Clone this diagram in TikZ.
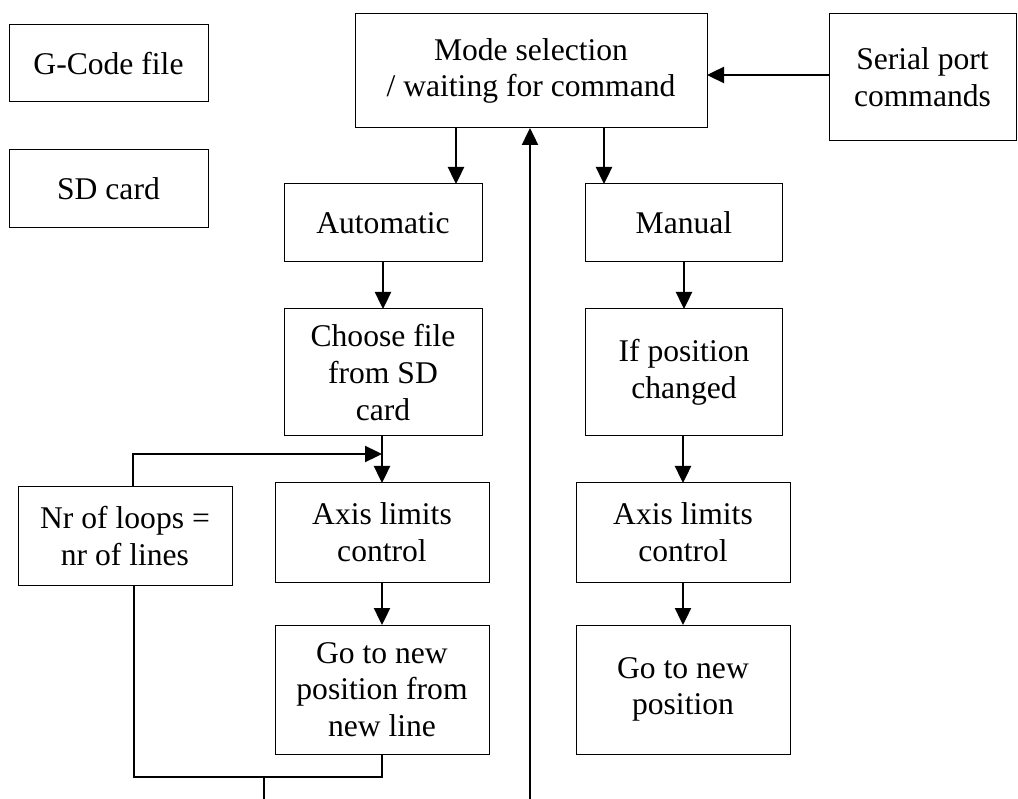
\documentclass[tikz,border=0pt]{standalone}
\usepackage{fontspec}
\setmainfont{Liberation Serif}
\usetikzlibrary{arrows.meta}

\tikzset{
  box/.style={draw=black, line width=1pt, inner sep=0pt, outer sep=0pt,
    align=center, font=\fontsize{31.6}{36.7}\selectfont},
  arr/.style={line width=2.4pt, -{Triangle[length=17pt,width=16pt]}},
  link/.style={line width=1.6pt}
}

\begin{document}
\begin{tikzpicture}[x=1pt, y=-1pt]
\useasboundingbox (0,0) rectangle (1018,799);

% left-hand labels
\node[box, minimum width=199pt, minimum height=77pt] (gcode) at (108.5,63.5) {G-Code file};
\node[box, minimum width=199pt, minimum height=78pt] (sd) at (108.5,189) {SD card};

% top row
\node[box, minimum width=352pt, minimum height=114pt] (mode) at (531,71) {Mode selection\\/ waiting for command};
\node[box, minimum width=187pt, minimum height=127pt] (serial) at (922.5,77.5) {Serial port\\commands};

% automatic branch
\node[box, minimum width=198pt, minimum height=78pt] (auto) at (383,223) {Automatic};
\node[box, minimum width=198pt, minimum height=127pt] (choose) at (383,372.5) {Choose file\\from SD\\card};
\node[box, minimum width=214pt, minimum height=99pt] (axisA) at (382,532.5) {Axis limits\\control};
\node[box, minimum width=214pt, minimum height=129pt] (goA) at (382,689.5) {Go to new\\position from\\new line};
\node[box, minimum width=214pt, minimum height=98pt] (loops) at (125,536) {Nr of loops =\\nr of lines};

% manual branch
\node[box, minimum width=197pt, minimum height=78pt] (manual) at (684,223) {Manual};
\node[box, minimum width=197pt, minimum height=127pt] (ifpos) at (684,372.5) {If position\\changed};
\node[box, minimum width=214pt, minimum height=99pt] (axisM) at (683,532.5) {Axis limits\\control};
\node[box, minimum width=214pt, minimum height=129pt] (goM) at (683,689.5) {Go to new\\position};

% routing points
\coordinate (toAuto) at (456,0);
\coordinate (toManual) at (604,0);
\coordinate (serialLevel) at (0,75);
\coordinate (returnIn) at (530,799);
\coordinate (loopTop) at (133,454);
\coordinate (loopBot) at (134,777);
\coordinate (exitTop) at (264,777);
\coordinate (exitBot) at (264,799);

% connectors
\draw[arr] (serial.west |- serialLevel) -- (mode.east |- serialLevel);
\draw[arr] (mode.south -| toAuto) -- (auto.north -| toAuto);
\draw[arr] (mode.south -| toManual) -- (manual.north -| toManual);
\draw[arr] (returnIn) -- (returnIn |- mode.south);

\draw[arr] (auto) -- (choose);
\draw[arr] (choose.south -| axisA.north) -- (axisA.north);
\draw[arr] (axisA) -- (goA);
\draw[arr] (loops.north -| loopTop) -- (loopTop) -- (loopTop -| axisA.north);
\draw[link] (goA.south) -- (goA.south |- loopBot) -- (loopBot) -- (loopBot |- loops.south);
\draw[link] (exitTop) -- (exitBot);

\draw[arr] (manual) -- (ifpos);
\draw[arr] (ifpos.south -| axisM.north) -- (axisM.north);
\draw[arr] (axisM) -- (goM);
\end{tikzpicture}
\end{document}
